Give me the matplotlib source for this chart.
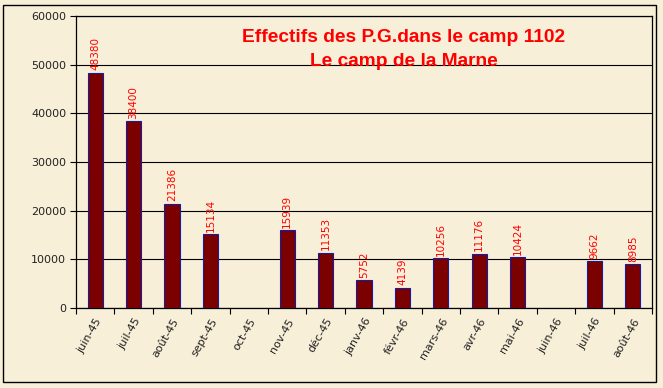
import numpy as np
import matplotlib.pyplot as plt
from matplotlib.patches import Rectangle

# Data
months = ["juin-45", "juil-45", "août-45", "sept-45", "oct-45", "nov-45", "déc-45",
          "janv-46", "févr-46", "mars-46", "avr-46", "mai-46", "juin-46", "juil-46", "août-46"]
effectifs = [48380, 38400, 21386, 15134, np.nan, 15939, 11353,
             5752, 4139, 10256, 11176, 10424, np.nan, 9662, 8985]
yticks = [0, 10000, 20000, 30000, 40000, 50000, 60000]

bg = "#f8efd8"

fig = plt.figure(figsize=(6.63, 3.88), dpi=100)
fig.patch.set_facecolor(bg)
# outer frame
fig.patches.append(Rectangle((0.004, 0.015), 0.985, 0.972, transform=fig.transFigure,
                             fill=False, edgecolor="black", linewidth=1.0))

ax = fig.add_axes([76 / 663, 1 - 308 / 388, (652 - 76) / 663, (308 - 16) / 388])
ax.set_facecolor(bg)

x = np.arange(len(months))
vals = np.array(effectifs, dtype=float)
has = ~np.isnan(vals)
ax.bar(x[has], vals[has], width=0.4, color="#7b0000", edgecolor="#1a1aa0",
       linewidth=0.8, zorder=3)

for xi, v in zip(x[has], vals[has]):
    ax.text(xi, v + 500, f"{int(v)}", rotation=90, ha="center", va="bottom",
            color="red", fontsize=7.5, zorder=4)

ax.set_xlim(-0.5, len(months) - 0.5)
ax.set_ylim(0, 60000)
ax.set_yticks(yticks)
ax.set_yticklabels([str(t) for t in yticks], fontsize=8, color="#222222")
ax.yaxis.grid(True, color="black", linewidth=0.8, zorder=0)

# ticks between categories, labels at centres
ax.set_xticks(np.arange(len(months) + 1) - 0.5)
ax.set_xticklabels([])
ax.set_xticks(x, minor=True)
ax.set_xticklabels(months, minor=True, rotation=60, ha="right", rotation_mode="anchor",
                   fontsize=8, color="#222222")
ax.tick_params(axis="x", which="minor", length=0, pad=6)
ax.tick_params(axis="x", which="major", length=4, direction="out")
ax.tick_params(axis="y", length=4, direction="out", pad=3)

for s in ax.spines.values():
    s.set_color("black")
    s.set_linewidth(0.9)

fig.text(404 / 663, 1 - 37 / 388, "Effectifs des P.G.dans le camp 1102", color="red",
         fontsize=13.8, fontweight="bold", ha="center", va="center", family="Liberation Sans")
fig.text(404 / 663, 1 - 61 / 388, "Le camp de la Marne", color="red",
         fontsize=13.8, fontweight="bold", ha="center", va="center", family="Liberation Sans")

fig.savefig("out.png", dpi=100, facecolor=bg)
